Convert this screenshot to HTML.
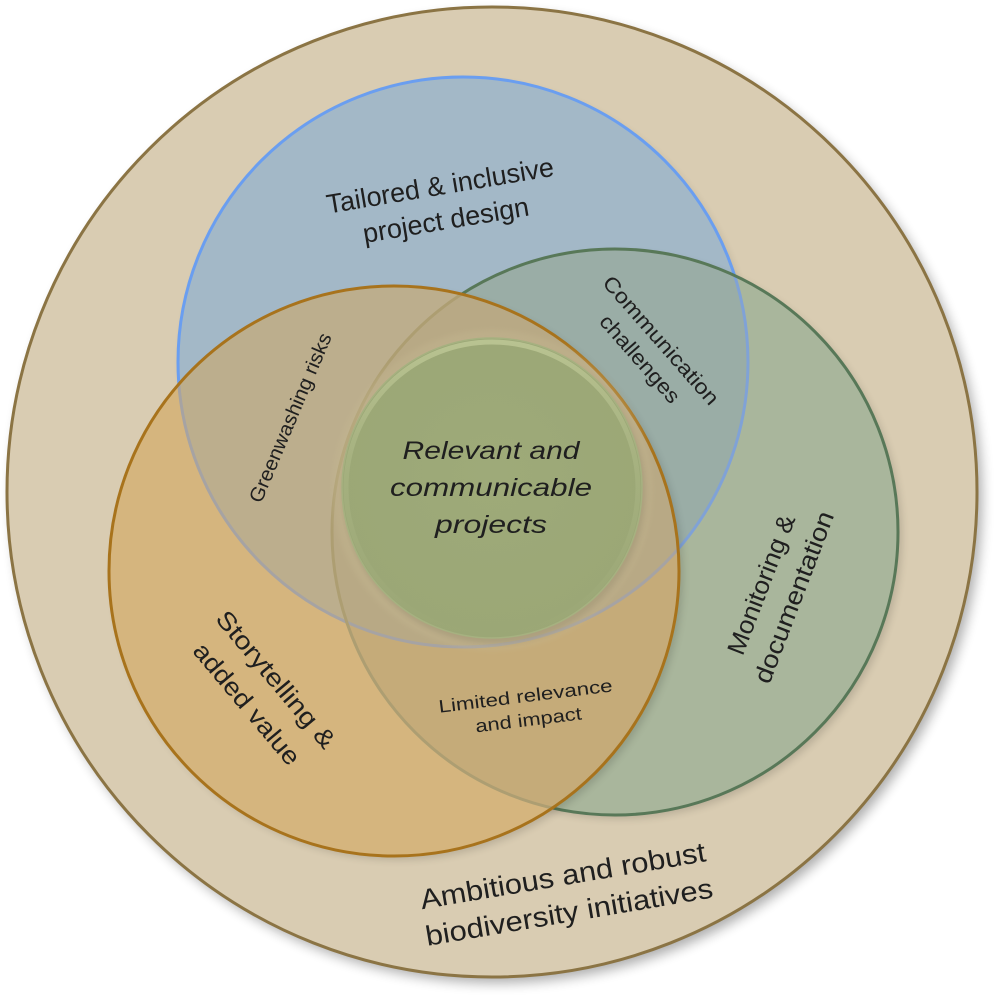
<!DOCTYPE html>
<html>
<head>
<meta charset="utf-8">
<style>
  html, body { margin: 0; padding: 0; background: #ffffff; }
  svg { display: block; }
  text { font-family: "Liberation Sans", "DejaVu Sans", sans-serif; fill: #1f1f1f; }
</style>
</head>
<body>
<svg width="1000" height="1000" viewBox="0 0 1000 1000" xmlns="http://www.w3.org/2000/svg">
  <defs>
    <clipPath id="cB"><circle cx="463" cy="362" r="285"/></clipPath>
    <clipPath id="cG"><circle cx="615" cy="532" r="283"/></clipPath>
    <clipPath id="cO"><circle cx="394" cy="571" r="285"/></clipPath>
    <filter id="blur6" x="-20%" y="-20%" width="140%" height="140%"><feGaussianBlur stdDeviation="6"/></filter>
    <filter id="blur4" x="-20%" y="-20%" width="140%" height="140%"><feGaussianBlur stdDeviation="4"/></filter>
    <filter id="blur3" x="-20%" y="-20%" width="140%" height="140%"><feGaussianBlur stdDeviation="3"/></filter>
    <linearGradient id="rimGrad" x1="0" y1="0" x2="0" y2="1">
      <stop offset="0" stop-color="#bcc694" stop-opacity="0.9"/>
      <stop offset="0.45" stop-color="#b0bb89" stop-opacity="0.45"/>
      <stop offset="1" stop-color="#a9b482" stop-opacity="0"/>
    </linearGradient>
    <radialGradient id="innerFill" cx="0.5" cy="0.45" r="0.55">
      <stop offset="0" stop-color="#9eaa79"/>
      <stop offset="1" stop-color="#9ba776"/>
    </radialGradient>
  </defs>

  <rect x="0" y="0" width="1000" height="1000" fill="#ffffff"/>

  <!-- Outer circle -->
  <circle cx="497" cy="498" r="485" fill="#000" opacity="0.32" filter="url(#blur6)"/>
  <circle cx="492" cy="492" r="485" fill="#d9ccb2" stroke="#8b7444" stroke-width="3"/>

  <!-- Blue circle -->
  <circle cx="466" cy="366" r="285" fill="#000" opacity="0.12" filter="url(#blur4)"/>
  <circle cx="463" cy="362" r="285" fill="#a3b8c7"/>
  <circle cx="463" cy="362" r="285" fill="none" stroke="#6a9ef0" stroke-width="3"/>

  <!-- Green circle -->
  <circle cx="619" cy="536" r="283" fill="#000" opacity="0.14" filter="url(#blur4)"/>
  <circle cx="615" cy="532" r="283" fill="#a9b69c"/>
  <g clip-path="url(#cB)">
    <circle cx="615" cy="532" r="283" fill="#9aada6"/>
  </g>
  <g clip-path="url(#cG)">
    <circle cx="463" cy="362" r="285" fill="none" stroke="#80a2d6" stroke-width="3"/>
  </g>
  <circle cx="615" cy="532" r="283" fill="none" stroke="#587858" stroke-width="3"/>

  <!-- Orange circle -->
  <circle cx="398" cy="575" r="285" fill="#000" opacity="0.14" filter="url(#blur4)"/>
  <circle cx="394" cy="571" r="285" fill="#d5b57e"/>
  <g clip-path="url(#cB)">
    <circle cx="394" cy="571" r="285" fill="#bcae8d"/>
  </g>
  <g clip-path="url(#cG)">
    <circle cx="394" cy="571" r="285" fill="#c5ab79"/>
    <g clip-path="url(#cB)">
      <circle cx="394" cy="571" r="285" fill="#b8a985"/>
    </g>
  </g>
  <g clip-path="url(#cO)">
    <circle cx="463" cy="362" r="285" fill="none" stroke="#a6a3a3" stroke-width="3"/>
    <circle cx="615" cy="532" r="283" fill="none" stroke="#ad9e72" stroke-width="3"/>
  </g>
  <circle cx="394" cy="571" r="285" fill="none" stroke="#a8731c" stroke-width="3"/>

  <!-- Inner circle -->
  <circle cx="492" cy="490" r="160" fill="#c6b993" opacity="0.35" filter="url(#blur3)"/>
  <circle cx="495" cy="493" r="151" fill="#000" opacity="0.08" filter="url(#blur3)"/>
  <circle cx="492" cy="488" r="150" fill="url(#innerFill)" stroke="#a6b180" stroke-width="1.5"/>
  <circle cx="492" cy="488" r="146" fill="none" stroke="url(#rimGrad)" stroke-width="5"/>

  <!-- Texts -->
  <g transform="translate(443,203) rotate(-9.5)">
    <text x="0" y="-17.5" font-size="27" text-anchor="middle" dominant-baseline="central" textLength="230" lengthAdjust="spacingAndGlyphs">Tailored &amp; inclusive</text>
    <text x="0" y="17.5" font-size="27" text-anchor="middle" dominant-baseline="central" textLength="168" lengthAdjust="spacingAndGlyphs">project design</text>
  </g>

  <g transform="translate(650,350) rotate(48.7)">
    <text x="0" y="-14" font-size="21" text-anchor="middle" dominant-baseline="central" textLength="164" lengthAdjust="spacingAndGlyphs">Communication</text>
    <text x="0" y="14" font-size="21" text-anchor="middle" dominant-baseline="central" textLength="110" lengthAdjust="spacingAndGlyphs">challenges</text>
  </g>

  <g transform="translate(291,418) rotate(-67)">
    <text x="0" y="0" font-size="20" text-anchor="middle" dominant-baseline="central" textLength="182" lengthAdjust="spacingAndGlyphs">Greenwashing risks</text>
  </g>

  <g font-style="italic">
    <text x="491" y="459" font-size="25" text-anchor="middle" textLength="177" lengthAdjust="spacingAndGlyphs">Relevant and</text>
    <text x="491" y="496" font-size="25" text-anchor="middle" textLength="202" lengthAdjust="spacingAndGlyphs">communicable</text>
    <text x="491" y="533" font-size="25" text-anchor="middle" textLength="112" lengthAdjust="spacingAndGlyphs">projects</text>
  </g>

  <g transform="translate(778,591) rotate(-69)">
    <text x="0" y="-17.5" font-size="25" text-anchor="middle" dominant-baseline="central" textLength="148" lengthAdjust="spacingAndGlyphs">Monitoring &amp;</text>
    <text x="0" y="17.5" font-size="25" text-anchor="middle" dominant-baseline="central" textLength="182" lengthAdjust="spacingAndGlyphs">documentation</text>
  </g>

  <g transform="translate(261,692) rotate(50)">
    <text x="0" y="-19" font-size="25" text-anchor="middle" dominant-baseline="central" textLength="171" lengthAdjust="spacingAndGlyphs">Storytelling &amp;</text>
    <text x="0" y="19" font-size="25" text-anchor="middle" dominant-baseline="central" textLength="151" lengthAdjust="spacingAndGlyphs">added value</text>
  </g>

  <g transform="translate(527,708) rotate(-7)">
    <text x="0" y="-12" font-size="18" text-anchor="middle" dominant-baseline="central" textLength="175" lengthAdjust="spacingAndGlyphs">Limited relevance</text>
    <text x="0" y="12" font-size="18" text-anchor="middle" dominant-baseline="central" textLength="107" lengthAdjust="spacingAndGlyphs">and impact</text>
  </g>

  <g transform="translate(566,894) rotate(-9.6)">
    <text x="0" y="-18.5" font-size="28" text-anchor="middle" dominant-baseline="central" textLength="289" lengthAdjust="spacingAndGlyphs">Ambitious and robust</text>
    <text x="0" y="18.5" font-size="28" text-anchor="middle" dominant-baseline="central" textLength="291" lengthAdjust="spacingAndGlyphs">biodiversity initiatives</text>
  </g>
</svg>
</body>
</html>
